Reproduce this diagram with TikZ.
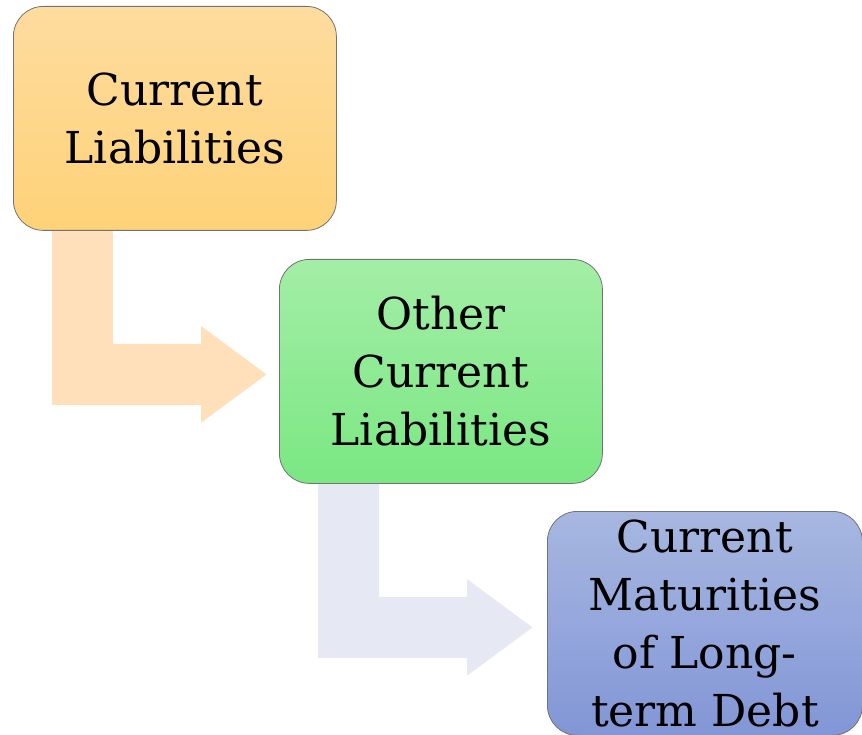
\documentclass[tikz,border=0pt]{standalone}
\usepackage{fontspec}
\setmainfont{DejaVu Serif}
\usetikzlibrary{arrows.meta}
\definecolor{peach}{HTML}{FFE0BA}
\definecolor{mist}{HTML}{E6E9F4}
\definecolor{goldtop}{HTML}{FEDC9F}
\definecolor{goldbot}{HTML}{FED278}
\definecolor{greentop}{HTML}{A3EEA6}
\definecolor{greenbot}{HTML}{7BE783}
\definecolor{bluetop}{HTML}{A7B7E1}
\definecolor{bluebot}{HTML}{8296D6}
\begin{document}
\begin{tikzpicture}[x=1pt,y=-1pt,
  box/.style={draw=black!55,line width=0.8pt,rounded corners=30pt,anchor=north west,
    minimum width=323pt,minimum height=224pt,align=center,inner sep=0pt,
    font=\fontsize{44}{58}\selectfont},
  bendarrow/.style={draw=#1,line width=61pt,line join=miter,
    -{Triangle[length=66pt,width=92pt,fill=#1]}}]
\useasboundingbox (0,0) rectangle (862,735);
\node[box,top color=goldtop,bottom color=goldbot] (a) at (13,6) {Current\\Liabilities};
\node[box,top color=greentop,bottom color=greenbot] (b) at (279,259) {Other\\Current\\Liabilities};
\node[box,minimum width=315pt,top color=bluetop,bottom color=bluebot] (c) at (547,511) {Current\\Maturities\\of Long-\\term Debt};
\draw[bendarrow=peach] ([xshift=69.5]a.south west) |- ([xshift=-12,yshift=-3]b.west);
\draw[bendarrow=mist] ([xshift=69.5]b.south west) |- ([xshift=-14,yshift=-4]c.west);
\end{tikzpicture}
\end{document}
